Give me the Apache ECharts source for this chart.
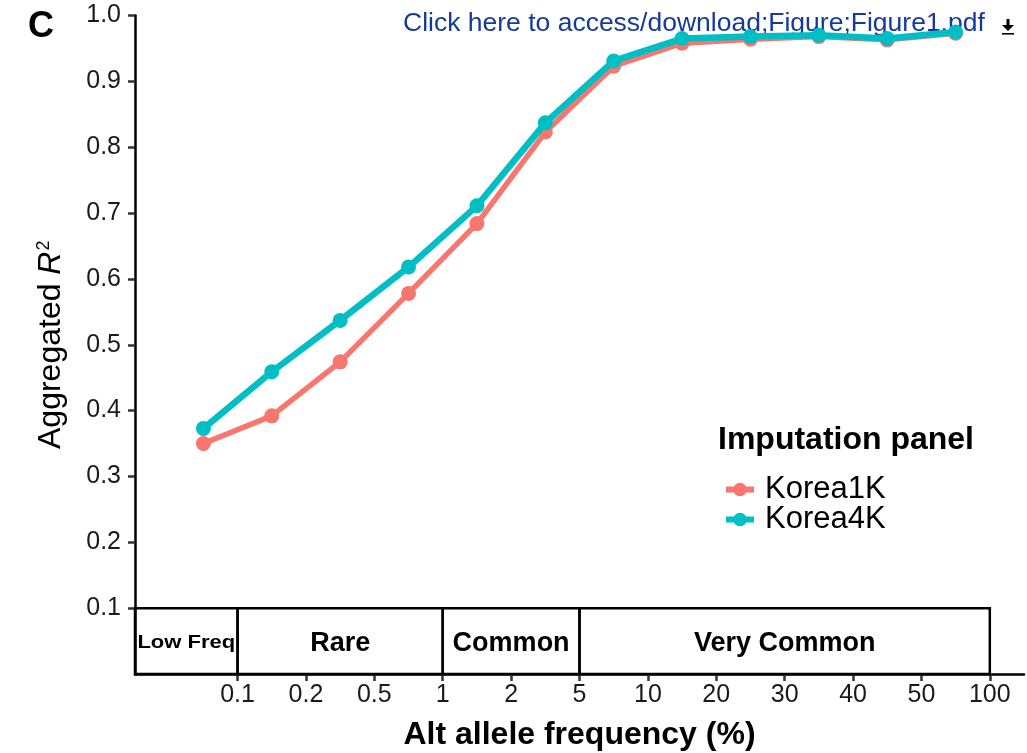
<!DOCTYPE html>
<html>
<head>
<meta charset="utf-8">
<script src="https://cdn.jsdelivr.net/npm/echarts@6/dist/echarts.min.js"></script>
<style>
html,body{margin:0;padding:0;background:#fff;}
#chart{width:1027px;height:753px;}
</style>
</head>
<body>
<div id="chart"></div>
<script>
// ---- data ----
const tickPositions = [1, 2, 3, 4, 5, 6, 7, 8, 9, 10, 11, 12];
const tickLabels = ['0.1', '0.2', '0.5', '1', '2', '5', '10', '20', '30', '40', '50', '100'];
const binIndex = [0, 1, 2, 3, 4, 5, 6, 7, 8, 9, 10, 11];
const korea1K = [0.350, 0.392, 0.474, 0.578, 0.684, 0.823, 0.923, 0.958, 0.964, 0.968, 0.963, 0.973];
const korea4K = [0.373, 0.459, 0.537, 0.618, 0.711, 0.837, 0.931, 0.965, 0.968, 0.970, 0.965, 0.975];
const yTicks = [0.1, 0.2, 0.3, 0.4, 0.5, 0.6, 0.7, 0.8, 0.9, 1.0];
const groupNames = ['Low Freq', 'Rare', 'Common', 'Very Common'];
const groupFrom = [-0.5, 1, 4, 6];
const groupTo = [1, 4, 6, 12];
const groupBottom = 0;
const groupTop = 0.1;

const toPoints = vals => binIndex.map((b, i) => [b + 0.5, vals[i]]);
const labelMap = {};
tickPositions.forEach((p, i) => { labelMap[p] = tickLabels[i]; });

const chart = echarts.init(document.getElementById('chart'), null, {renderer: 'canvas'});
const FONT = 'Liberation Sans, Arial, sans-serif';

const option = {
  backgroundColor: '#ffffff',
  animation: false,
  textStyle: {fontFamily: FONT},
  grid: {left: 135, right: 3, top: 15.5, bottom: 79, outerBoundsMode: 'none', containLabel: false},
  xAxis: {
    type: 'value', min: -0.5, max: 12.5,
    splitLine: {show: false},
    axisLine: {show: true, onZero: false, lineStyle: {color: '#000', width: 2.5}},
    axisTick: {show: true, customValues: tickPositions, length: 7, lineStyle: {color: '#333', width: 2.5}},
    axisLabel: {show: true, customValues: tickPositions, formatter: v => labelMap[v] || '', fontSize: 25, color: '#1a1a1a', margin: 9, fontFamily: FONT},
    name: 'Alt allele frequency (%)', nameLocation: 'middle', nameGap: 45,
    nameTextStyle: {fontSize: 32, fontWeight: 'bold', color: '#000', fontFamily: FONT}
  },
  yAxis: {
    type: 'value', min: 0, max: 1,
    splitLine: {show: false},
    axisLine: {show: true, onZero: false, lineStyle: {color: '#000', width: 2.5}},
    axisTick: {show: true, customValues: yTicks, length: 7, lineStyle: {color: '#333', width: 2.5}},
    axisLabel: {show: true, customValues: yTicks, formatter: v => v.toFixed(1), fontSize: 25, color: '#1a1a1a', margin: 14, fontFamily: FONT},
    name: '{n|Aggregated }{i|R}{s|2}', nameLocation: 'middle', nameGap: 68, nameRotate: 90,
    nameTextStyle: {
      fontSize: 32, color: '#000', fontFamily: FONT,
      rich: {
        n: {fontSize: 32, color: '#000', fontFamily: FONT},
        i: {fontSize: 32, color: '#000', fontStyle: 'italic', fontFamily: FONT},
        s: {fontSize: 18, color: '#000', fontFamily: FONT, verticalAlign: 'top', padding: [0, 0, 14, 1]}
      }
    }
  },
  legend: {
    show: true, orient: 'vertical', left: 718, top: 469,
    data: ['Korea1K', 'Korea4K'],
    itemWidth: 28, itemHeight: 17, itemGap: -1,
    lineStyle: {width: 6},
    textStyle: {fontSize: 31, color: '#000', fontFamily: FONT, padding: [0, 0, 0, 6]}
  },
  graphic: [
    {type: 'text', left: 28, top: 9, style: {text: 'C', fontSize: 36, fontWeight: 'bold', fill: '#000', fontFamily: FONT}},
    {type: 'text', left: 403, top: 10, style: {text: 'Click here to access/download;Figure;Figure1.pdf', fontSize: 26.5, fill: '#153a9a', fontFamily: FONT}},
    {type: 'polygon', shape: {points: [[1002, 25], [1014, 25], [1008, 31]]}, style: {fill: '#000'}},
    {type: 'rect', shape: {x: 1006.5, y: 19, width: 3, height: 7}, style: {fill: '#000'}},
    {type: 'rect', shape: {x: 1002, y: 33, width: 12, height: 1.6}, style: {fill: '#000'}},
    {type: 'text', left: 718, top: 424, style: {text: 'Imputation panel', fontSize: 32, fontWeight: 'bold', fill: '#000', fontFamily: FONT}}
  ],
  series: [
    {
      type: 'custom', name: 'groups', silent: true, z: 1,
      data: groupNames.map((n, i) => [groupFrom[i], groupTo[i], i]),
      renderItem: function (params, api) {
        const i = api.value(2);
        const p0 = api.coord([api.value(0), groupTop]);
        const p1 = api.coord([api.value(1), groupBottom]);
        const isLow = groupNames[i] === 'Low Freq';
        return {
          type: 'group',
          children: [
            {type: 'rect', shape: {x: p0[0], y: p0[1], width: p1[0] - p0[0], height: p1[1] - p0[1]},
             style: {fill: 'rgba(255,255,255,0)', stroke: '#000', lineWidth: 2.5}},
            {type: 'text', x: (p0[0] + p1[0]) / 2, y: (p0[1] + p1[1]) / 2 + 2,
             scaleY: isLow ? 0.8 : 1,
             style: {text: groupNames[i], fontSize: isLow ? 22 : 27, fontWeight: 'bold', fill: '#000',
                     fontFamily: FONT, align: 'center', verticalAlign: 'middle'}}
          ]
        };
      }
    },
    {
      type: 'line', name: 'Korea1K', data: toPoints(korea1K), z: 3,
      color: '#F8766D',
      lineStyle: {color: '#F8766D', width: 5.5},
      itemStyle: {color: '#F8766D'},
      symbol: 'circle', symbolSize: 15, showSymbol: true
    },
    {
      type: 'line', name: 'Korea4K', data: toPoints(korea4K), z: 4,
      color: '#00BFC4',
      lineStyle: {color: '#00BFC4', width: 6.5},
      itemStyle: {color: '#00BFC4'},
      symbol: 'circle', symbolSize: 15, showSymbol: true
    }
  ]
};
chart.setOption(option);
</script>
</body>
</html>
